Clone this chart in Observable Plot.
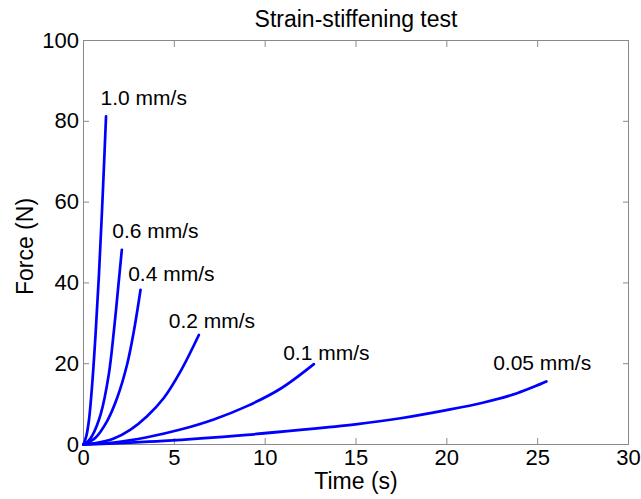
<!DOCTYPE html>
<html><head><meta charset="utf-8">
<script src="https://cdn.jsdelivr.net/npm/d3@7"></script>
<script src="https://cdn.jsdelivr.net/npm/@observablehq/plot@0.6"></script>
<style>body{margin:0;background:#fff} svg{display:block}</style>
</head><body><div id="chart"></div>
<script>
// Tick values
const xTicks = [0, 5, 10, 15, 20, 25, 30];
const yTicks = [0, 20, 40, 60, 80, 100];

// Series names
const speeds = ["1.0 mm/s", "0.6 mm/s", "0.4 mm/s", "0.2 mm/s", "0.1 mm/s", "0.05 mm/s"];

// Time (s) and force (N) per loading rate
const time_1_0  = [0, 0.15, 0.3, 0.48, 0.66, 0.85, 1.05, 1.24];
const force_1_0 = [0, 2.0, 6.0, 15.0, 27.0, 42.0, 61.0, 81.2];
const time_0_6  = [0, 0.25, 0.48, 0.94, 1.39, 1.67, 1.94, 2.11];
const force_0_6 = [0, 0.8, 2.2, 7.4, 17.3, 28.0, 40.3, 48.2];
const time_0_4  = [0, 0.66, 1.3, 1.85, 2.4, 2.77, 3.14];
const force_0_4 = [0, 1.7, 5.8, 11.5, 19.8, 28.0, 38.3];
const time_0_2  = [0, 0.75, 1.67, 2.59, 3.5, 4.42, 5.34, 6.35];
const force_0_2 = [0, 0.4, 1.5, 3.7, 7.0, 11.5, 18.1, 27.1];
const time_0_1  = [0, 1.67, 3.5, 5.34, 7.17, 9.0, 10.84, 12.68];
const force_0_1 = [0, 0.5, 1.8, 3.7, 6.2, 9.5, 13.8, 19.9];
const time_0_05  = [0, 4.42, 9.0, 11.94, 14.97, 17.45, 19.98, 22.03, 23.87, 25.48];
const force_0_05 = [0, 0.9, 2.4, 3.6, 5.0, 6.5, 8.5, 10.4, 12.7, 15.6];

// Annotation anchor positions (data units, left edge of label)
const labelTime  = [0.94, 1.58, 2.46, 4.69, 10.99, 22.55];
const labelForce = [85.8, 52.7, 42.1, 30.6, 22.7, 20.1];

const seriesTimes  = [time_1_0, time_0_6, time_0_4, time_0_2, time_0_1, time_0_05];
const seriesForces = [force_1_0, force_0_6, force_0_4, force_0_2, force_0_1, force_0_05];

const rows = [];
speeds.forEach((s, i) => {
  seriesTimes[i].forEach((t, j) => rows.push({speed: s, t, f: seriesForces[i][j]}));
});
const labels = speeds.map((s, i) => ({speed: s, t: labelTime[i], f: labelForce[i]}));

const font = "'Liberation Sans', Arial, Helvetica, sans-serif";
const grey = "#8a8a8a";

const chart = Plot.plot({
  width: 641,
  height: 499,
  marginLeft: 83,
  marginRight: 13,
  marginTop: 40,
  marginBottom: 55,
  style: {fontFamily: font, fontSize: "22px", color: "#000", background: "#fff", overflow: "visible"},
  x: {domain: [0, 30]},
  y: {domain: [0, 100]},
  marks: [
    Plot.frame({stroke: grey, strokeWidth: 1}),
    Plot.axisX(xTicks, {anchor: "bottom", tickSize: -6, tickPadding: 11, label: null, stroke: grey, fontSize: 22}),
    Plot.axisX(xTicks, {anchor: "top", tickSize: -6, tickFormat: () => "", label: null, stroke: grey}),
    Plot.axisY(yTicks, {anchor: "left", tickSize: -6, tickPadding: 10.5, label: null, stroke: grey, fontSize: 22}),
    Plot.axisY(yTicks, {anchor: "right", tickSize: -6, tickFormat: () => "", label: null, stroke: grey}),
    Plot.line(rows, {x: "t", y: "f", z: "speed", stroke: "#0000ff", strokeWidth: 2.7, curve: "catmull-rom"}),
    Plot.text(labels, {x: "t", y: "f", text: "speed", textAnchor: "start", fontSize: 21, fill: "#000"}),
    Plot.text(["Strain-stiffening test"], {frameAnchor: "top", dy: -21, lineAnchor: "middle", textAnchor: "middle", text: d => d, fontSize: 23, fill: "#000"}),
    Plot.text(["Time (s)"], {frameAnchor: "bottom", dy: 37, lineAnchor: "middle", textAnchor: "middle", text: d => d, fontSize: 23, fill: "#000"}),
    Plot.text(["Force (N)"], {frameAnchor: "left", dx: -58, dy: 4, rotate: -90, lineAnchor: "middle", textAnchor: "middle", text: d => d, fontSize: 23, fill: "#000"})
  ]
});
document.getElementById("chart").appendChild(chart);
</script>
</body></html>
